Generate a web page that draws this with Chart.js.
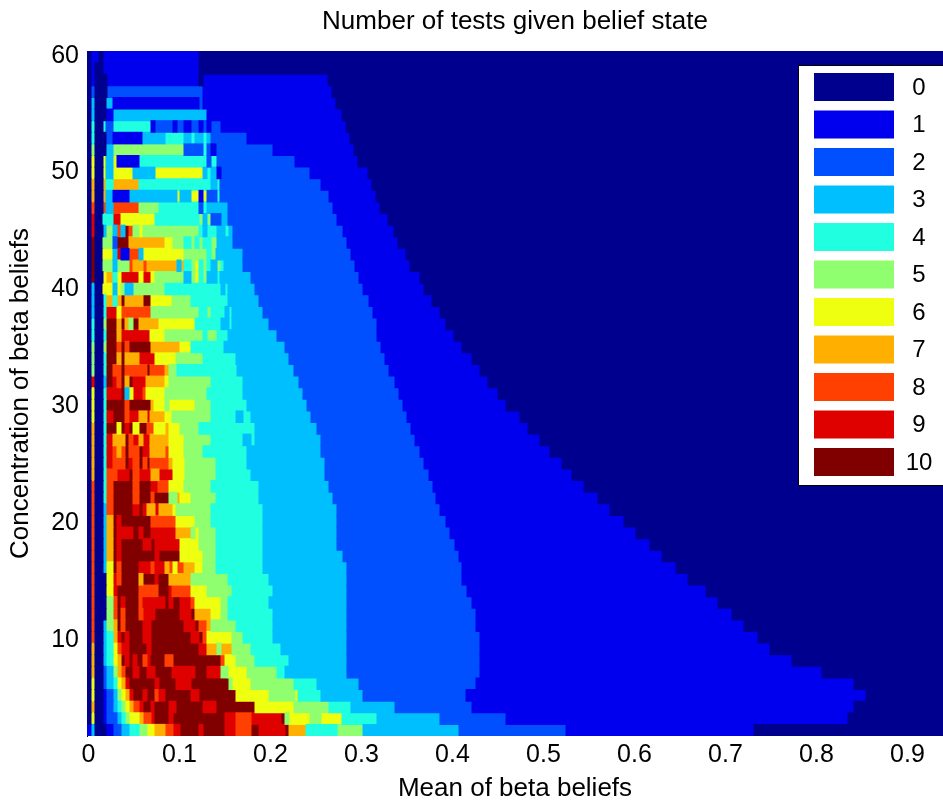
<!DOCTYPE html>
<html>
<head>
<meta charset="utf-8">
<script src="https://cdn.jsdelivr.net/npm/chart.js@4"></script>
<style>
  html, body { margin: 0; padding: 0; background: #fff; }
  #wrap { width: 943px; height: 804px; }
</style>
</head>
<body>
<div id="wrap"><canvas id="chart" width="943" height="804"></canvas></div>
<script>
// number of tests -> colour, same order as the legend
var levelNames = ['0', '1', '2', '3', '4', '5', '6', '7', '8', '9', '10'];
var levelColors = ['#00008F', '#0000EF', '#0050FF', '#00BFFF', '#20FFDF', '#8FFF70', '#EFFF10', '#FFAF00', '#FF4000', '#DF0000', '#800000'];

var xTicks = [0, 0.1, 0.2, 0.3, 0.4, 0.5, 0.6, 0.7, 0.8, 0.9];
var yTicks = [10, 20, 30, 40, 50, 60];

// bin width on the mean axis (one bin = 1/910)
var binsPerUnit = 910;

// concentration value of each row, top row first
var concentration = [60, 59, 58, 57, 56, 55, 54, 53, 52, 51, 50, 49, 48, 47, 46, 45, 44, 43, 42, 41, 40, 39, 38, 37, 36, 35, 34, 33, 32, 31, 30, 29, 28, 27, 26, 25, 24, 23, 22, 21, 20, 19, 18, 17, 16, 15, 14, 13, 12, 11, 10, 9, 8, 7, 6, 5, 4, 3, 2];

// each row: level, end bin, level, end bin, ...
var rowRuns = [
  [0,4,1,12,0,16,1,112,0,856],
  [0,4,1,8,0,16,1,112,0,856],
  [0,4,1,8,0,20,1,112,0,116,1,241,0,856],
  [0,4,2,8,0,20,2,116,1,245,0,856],
  [0,4,3,8,0,19,3,26,1,112,2,116,1,249,0,856],
  [0,4,3,8,0,19,1,26,3,120,1,255,0,856],
  [0,4,4,8,0,16,4,19,2,26,4,64,1,68,2,86,1,90,2,97,1,104,2,112,1,116,2,120,1,124,2,134,1,259,0,856],
  [0,4,4,8,0,19,2,26,1,55,3,78,4,97,3,104,4,108,3,116,4,120,3,124,2,160,1,263,0,856],
  [0,4,5,8,0,19,3,26,5,97,2,116,4,120,2,124,1,129,2,186,1,267,0,856],
  [0,4,6,8,0,16,6,19,3,26,6,30,1,52,4,120,2,124,4,130,2,208,1,271,0,856],
  [0,4,6,8,0,16,6,19,3,26,6,46,3,68,6,116,3,120,4,124,3,130,1,134,2,223,1,281,0,856],
  [0,4,7,8,0,16,7,19,4,26,7,52,4,124,3,130,4,133,2,234,1,285,0,856],
  [0,4,7,8,0,16,7,19,3,26,1,42,3,90,6,93,3,104,6,112,1,116,6,120,2,130,4,133,2,242,1,289,0,856],
  [0,4,8,8,0,16,8,19,3,26,8,52,5,72,4,112,2,116,4,120,3,141,2,246,1,293,0,856],
  [0,4,9,8,0,15,4,26,9,34,6,68,4,112,5,116,3,120,5,124,2,134,3,141,2,250,1,301,0,856],
  [0,4,9,8,0,16,3,19,5,26,3,30,8,34,3,38,10,42,8,46,5,52,6,56,5,112,4,116,3,120,4,130,3,138,4,142,3,146,2,256,1,307,0,856],
  [0,4,10,8,0,15,5,26,2,30,10,42,7,78,6,86,5,97,4,104,5,108,4,112,5,116,4,124,5,130,3,146,2,260,1,311,0,856],
  [0,4,10,8,0,15,6,26,3,30,9,34,1,42,8,52,3,56,6,97,5,120,4,124,5,129,3,156,2,264,1,319,0,856],
  [0,4,10,8,0,15,5,26,3,30,5,42,8,46,7,56,8,60,7,90,3,94,7,97,4,104,5,108,6,112,4,116,5,120,4,124,3,130,5,134,4,137,3,156,2,268,1,323,0,856],
  [0,4,10,8,0,16,6,19,7,26,4,30,6,34,9,52,6,56,9,64,6,68,5,97,3,104,5,108,6,112,4,116,5,120,3,130,4,133,3,164,2,272,1,333,0,856],
  [0,4,3,8,0,15,6,26,3,30,6,34,5,38,3,46,5,78,4,134,3,138,4,141,3,168,2,276,1,337,0,856],
  [0,4,3,8,0,16,4,19,7,26,4,30,7,34,10,38,7,56,10,64,6,85,5,104,4,141,3,172,2,282,1,345,0,856],
  [0,4,3,8,0,16,4,19,9,30,6,34,8,64,5,112,4,120,5,124,4,138,3,142,4,145,3,176,2,286,1,353,0,856],
  [0,4,4,8,0,16,5,19,10,30,7,34,10,38,7,42,5,46,10,52,7,72,6,108,4,134,3,142,4,145,3,182,2,290,1,359,0,856],
  [0,4,4,8,0,16,4,19,10,30,7,34,9,63,6,78,5,116,4,120,5,130,4,141,3,190,2,290,1,367,0,856],
  [0,4,5,8,0,16,5,19,10,30,8,34,10,38,8,42,10,64,7,93,6,104,4,137,3,198,2,294,1,375,0,856],
  [0,4,5,8,0,16,4,19,10,30,7,34,10,38,7,52,9,68,6,89,5,116,4,149,3,202,2,298,1,385,0,856],
  [0,4,5,8,0,16,4,19,10,26,8,34,10,38,8,60,10,63,8,78,7,82,5,90,4,150,3,207,2,302,1,393,0,856],
  [0,4,9,8,0,16,3,19,10,26,9,30,8,34,10,38,7,42,10,46,9,59,7,78,6,82,5,124,4,156,3,212,2,308,1,401,0,856],
  [0,4,6,8,0,16,4,19,9,34,10,38,3,42,6,46,9,56,8,59,6,78,5,120,4,156,3,216,2,312,1,411,0,856],
  [0,4,6,8,0,16,4,19,10,38,8,42,10,64,7,67,6,78,5,82,6,108,5,124,4,160,3,220,2,316,1,419,0,856],
  [0,4,6,8,0,16,4,19,9,26,10,38,8,42,9,52,7,60,9,63,7,78,6,85,5,124,4,149,3,156,4,164,3,224,2,320,1,433,0,856],
  [0,4,7,8,0,16,4,19,10,30,6,34,10,38,9,42,10,46,6,52,10,60,8,67,6,78,7,82,6,93,5,112,4,168,3,230,2,324,1,441,0,856],
  [0,4,7,8,0,16,4,19,9,26,7,38,10,42,8,46,9,52,7,56,9,63,7,82,6,97,5,124,4,156,3,164,4,168,3,234,2,328,1,453,0,856],
  [0,4,7,8,0,16,4,19,9,26,8,30,7,34,8,38,10,42,8,52,10,56,9,63,7,78,8,82,6,97,5,116,4,160,3,234,2,333,1,463,0,856],
  [0,4,7,8,0,16,4,19,9,26,8,38,10,42,9,46,8,52,10,56,8,60,10,63,8,82,7,86,6,98,5,129,4,160,3,238,2,337,1,475,0,856],
  [0,4,7,8,0,16,4,19,8,30,9,42,10,46,8,52,9,64,7,72,9,86,6,98,5,129,4,164,3,238,2,342,1,485,0,856],
  [0,4,8,8,0,16,4,19,8,26,10,46,8,52,10,64,9,71,8,82,6,97,5,124,4,172,3,242,2,346,1,497,0,856],
  [0,4,8,8,0,16,4,19,8,26,10,46,8,52,10,64,8,67,10,82,5,90,7,93,6,104,5,129,4,172,3,246,2,349,1,511,0,856],
  [0,4,8,8,0,16,3,19,8,26,10,46,9,52,10,56,9,60,7,68,9,72,7,86,6,89,5,124,4,176,3,250,2,353,1,523,0,856],
  [0,4,8,8,0,16,3,19,7,26,10,30,9,34,10,64,8,89,6,108,5,124,4,176,3,250,2,359,1,537,0,856],
  [0,4,8,8,0,16,3,19,7,26,10,30,9,46,10,52,9,56,10,64,9,89,7,104,5,108,6,112,5,129,4,176,3,250,2,363,1,549,0,856],
  [0,4,8,8,0,16,3,19,7,26,10,30,9,34,10,56,9,64,10,68,9,93,6,112,5,129,4,176,3,250,2,368,1,563,0,856],
  [0,4,8,8,0,16,3,19,7,26,10,30,9,34,10,68,9,72,10,93,6,116,5,129,4,176,3,256,2,372,1,575,0,856],
  [0,4,8,8,0,16,3,19,6,26,10,30,8,34,10,52,9,64,8,67,9,78,7,82,8,86,6,90,8,97,7,108,6,116,5,129,4,176,3,260,2,375,1,589,0,856],
  [0,4,8,8,0,19,6,26,9,30,8,34,10,52,7,56,10,68,9,71,10,82,7,104,5,141,4,182,3,260,2,375,1,601,0,856],
  [0,4,8,8,0,19,6,26,9,30,10,52,8,71,10,82,9,85,8,104,6,120,5,145,4,186,3,260,2,380,1,619,0,856],
  [0,4,8,8,0,19,5,26,8,30,10,34,9,38,10,52,8,55,9,78,10,82,9,86,10,93,9,104,8,108,6,134,5,141,4,182,3,260,2,385,1,631,0,856],
  [0,4,8,8,0,19,5,26,8,30,10,34,8,38,10,52,8,56,9,68,10,93,9,104,10,108,7,124,6,134,5,141,4,186,3,260,2,389,1,645,0,856],
  [0,4,8,8,0,16,3,19,5,26,7,30,10,34,8,38,10,56,9,64,10,97,9,108,10,112,8,120,7,124,5,149,4,186,3,260,2,389,1,657,0,856],
  [0,4,8,8,0,16,3,19,4,26,7,30,9,34,10,38,9,42,10,56,9,64,10,104,9,112,10,116,8,120,6,145,5,156,4,186,3,260,2,393,1,671,0,856],
  [0,4,7,8,0,16,3,19,4,26,6,30,8,34,9,42,10,60,9,64,10,112,9,120,7,130,5,134,7,145,5,164,4,194,3,260,2,393,1,683,0,856],
  [0,4,7,8,0,16,3,19,4,26,6,30,7,34,10,38,9,42,10,46,9,50,10,56,8,60,9,63,10,78,8,86,10,134,8,138,6,149,5,168,4,202,3,260,2,393,1,705,0,856],
  [0,4,7,8,0,16,2,19,3,26,5,30,7,34,8,38,10,46,9,52,10,60,9,68,10,85,9,108,10,120,9,134,5,141,6,160,5,190,4,198,3,260,2,393,1,735,0,856],
  [0,4,6,8,0,16,2,19,3,26,4,30,6,34,7,38,9,42,10,68,9,72,10,89,9,104,10,142,5,145,6,164,5,207,4,230,3,272,2,389,1,767,0,856],
  [0,4,6,8,0,16,1,19,2,26,3,30,5,34,6,38,7,42,9,46,10,56,9,60,10,68,8,71,9,78,10,104,9,112,10,149,6,182,5,208,6,211,4,234,3,276,2,379,1,779,0,856],
  [0,4,7,8,0,16,1,19,2,26,3,30,4,34,5,38,6,42,7,46,8,52,9,56,10,64,9,67,10,82,9,89,10,116,9,129,10,168,6,207,5,242,4,264,3,308,2,385,1,767,0,856],
  [0,4,6,8,0,16,1,19,2,30,3,34,4,38,5,42,6,52,7,56,8,64,9,67,10,82,9,86,10,138,9,149,8,164,9,194,10,198,5,202,6,223,5,234,6,255,4,290,3,353,2,419,1,761,0,856],
  [1,4,3,8,0,19,1,26,2,34,3,42,4,52,5,60,6,67,7,78,8,86,9,93,10,112,9,116,10,138,9,149,8,164,10,172,9,198,10,202,7,219,4,250,5,276,3,372,2,479,1,667,0,856]
];

// rows in the original sit slightly off the tick positions
function rowCenter(v) {
    return 1.8 + (v - 1.5) * 58.6 / 59;
}

// one floating bar per run, grouped into one dataset per level
var datasets = levelNames.map(function (name, level) {
    var cells = [];
    rowRuns.forEach(function (runs, r) {
        var start = 0;
        for (var i = 0; i < runs.length; i += 2) {
            if (runs[i] === level) {
                cells.push({ y: rowCenter(concentration[r]), x: [start / binsPerUnit, runs[i + 1] / binsPerUnit] });
            }
            start = runs[i + 1];
        }
    });
    return {
        label: name,
        data: cells,
        backgroundColor: levelColors[level],
        borderWidth: 0,
        inflateAmount: 0.5,
        barPercentage: 1,
        categoryPercentage: 1,
        grouped: false
    };
});

// legend sits over the plot at top right, like the matlab one
var legendBox = {
    id: 'legendBox',
    afterDraw: function (chart) {
        var ctx = chart.ctx;
        ctx.save();
        ctx.fillStyle = '#fff';
        ctx.fillRect(798, 65, 145, 420);
        ctx.strokeStyle = '#000';
        ctx.lineWidth = 1;
        ctx.strokeRect(798.5, 65.5, 146, 420);
        ctx.font = '24px "Liberation Sans"';
        ctx.textAlign = 'center';
        ctx.textBaseline = 'middle';
        levelNames.forEach(function (name, i) {
            var top = 73 + i * 37.5;
            ctx.fillStyle = levelColors[i];
            ctx.fillRect(814, top, 80, 28);
            ctx.fillStyle = '#000';
            ctx.fillText(name, 919, top + 15);
        });
        ctx.restore();
    }
};

var tickFont = { family: '"Liberation Sans"', size: 25 };
var titleFont = { family: '"Liberation Sans"', size: 26, weight: 'normal' };

new Chart(document.getElementById('chart'), {
    type: 'bar',
    data: { datasets: datasets },
    plugins: [legendBox],
    options: {
        indexAxis: 'y',
        responsive: false,
        animation: false,
        layout: { padding: 0 },
        plugins: {
            legend: { display: false },
            tooltip: { enabled: false },
            title: {
                display: true,
                text: 'Number of tests given belief state',
                color: '#000',
                font: titleFont,
                fullSize: false,
                padding: { top: 6, bottom: 13.8 }
            }
        },
        scales: {
            x: {
                type: 'linear',
                min: 0,
                max: 856 / binsPerUnit,
                grid: { display: false, drawTicks: false },
                border: { display: false },
                afterBuildTicks: function (scale) {
                    scale.ticks = xTicks.map(function (v) { return { value: v }; });
                },
                afterFit: function (scale) { scale.height = 68; },
                ticks: {
                    color: '#000',
                    font: tickFont,
                    autoSkip: false,
                    maxRotation: 0,
                    padding: 4,
                    labelOffset: 1.5,
                    callback: function (v) { return String(v); }
                },
                title: {
                    display: true,
                    text: 'Mean of beta beliefs',
                    color: '#000',
                    font: titleFont,
                    padding: { top: 2, bottom: 0 }
                }
            },
            y: {
                type: 'linear',
                min: 1.8,
                max: 60.4,
                offset: false,
                grid: { display: false, drawTicks: false },
                border: { display: true, color: '#000', width: 1 },
                afterBuildTicks: function (scale) {
                    scale.ticks = yTicks.map(function (v) { return { value: v }; });
                },
                afterFit: function (scale) { scale.width = 87; },
                ticks: {
                    color: '#000',
                    font: tickFont,
                    padding: 8,
                    callback: function (v) { return String(v); }
                },
                title: {
                    display: true,
                    text: 'Concentration of beta beliefs',
                    color: '#000',
                    font: titleFont,
                    padding: { top: 5, bottom: 0 }
                }
            }
        }
    }
});
</script>
</body>
</html>
